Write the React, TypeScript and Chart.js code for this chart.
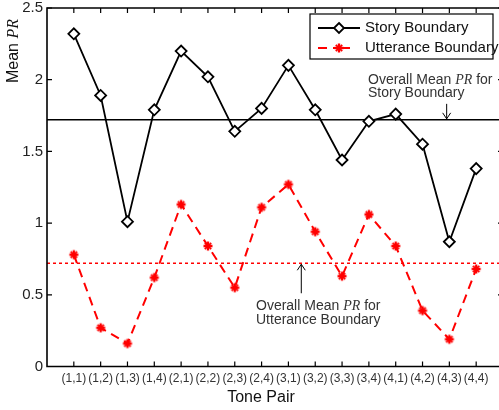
import React, { useEffect, useRef } from "react";
import { Chart, registerables } from "chart.js";

Chart.register(...registerables);

const categories = ["(1,1)", "(1,2)", "(1,3)", "(1,4)", "(2,1)", "(2,2)", "(2,3)", "(2,4)", "(3,1)", "(3,2)", "(3,3)", "(3,4)", "(4,1)", "(4,2)", "(4,3)", "(4,4)"];
const storyValues = [2.32, 1.89, 1.01, 1.79, 2.2, 2.02, 1.64, 1.8, 2.1, 1.79, 1.44, 1.71, 1.76, 1.55, 0.87, 1.38];
const utteranceValues = [0.78, 0.27, 0.16, 0.62, 1.13, 0.84, 0.55, 1.11, 1.27, 0.94, 0.63, 1.06, 0.84, 0.39, 0.19, 0.68];
const storyMean = 1.72;
const utteranceMean = 0.72;
const yTicks = [0, 0.5, 1, 1.5, 2, 2.5];
const yTickLabels = ["0", "0.5", "1", "1.5", "2", "2.5"];
const seriesNames = ["Story Boundary", "Utterance Boundary"];

const SANS = '"Liberation Sans", Arial, sans-serif';
const SERIF = '"Liberation Serif", "Times New Roman", serif';

type Seg = { t: string; f: string };

function drawRich(ctx: CanvasRenderingContext2D, segs: Seg[], x: number, y: number) {
  let cx = x;
  for (const s of segs) {
    ctx.font = s.f;
    ctx.fillText(s.t, cx, y);
    cx += ctx.measureText(s.t).width;
  }
}

function richWidth(ctx: CanvasRenderingContext2D, segs: Seg[]) {
  let w = 0;
  for (const s of segs) {
    ctx.font = s.f;
    w += ctx.measureText(s.t).width;
  }
  return w;
}

function drawStar(ctx: CanvasRenderingContext2D, cx: number, cy: number) {
  ctx.save();
  ctx.strokeStyle = "#ff0000";
  ctx.fillStyle = "#ff0000";
  ctx.lineCap = "butt";
  ctx.lineWidth = 2.4;
  ctx.beginPath();
  ctx.moveTo(cx, cy - 4.5);
  ctx.lineTo(cx, cy + 4.5);
  ctx.moveTo(cx - 4.5, cy);
  ctx.lineTo(cx + 4.5, cy);
  ctx.stroke();
  ctx.lineWidth = 1.8;
  ctx.beginPath();
  ctx.moveTo(cx - 3.2, cy - 3.2);
  ctx.lineTo(cx + 3.2, cy + 3.2);
  ctx.moveTo(cx + 3.2, cy - 3.2);
  ctx.lineTo(cx - 3.2, cy + 3.2);
  ctx.stroke();
  ctx.beginPath();
  ctx.arc(cx, cy, 2.2, 0, Math.PI * 2);
  ctx.fill();
  ctx.restore();
}

function makeStarImage() {
  const c = document.createElement("canvas");
  c.width = 12;
  c.height = 12;
  const g = c.getContext("2d");
  if (g) drawStar(g, 6, 6);
  return c;
}

const overlay = {
  id: "overlay",
  afterDraw(chart: any) {
    const ctx: CanvasRenderingContext2D = chart.ctx;
    const xs = chart.scales.x;
    const ys = chart.scales.y;
    const a = chart.chartArea;
    ctx.save();

    // axes box
    ctx.strokeStyle = "#000";
    ctx.lineWidth = 1.6;
    ctx.beginPath();
    ctx.moveTo(a.left, a.top);
    ctx.lineTo(a.right, a.top);
    ctx.lineTo(a.right, a.bottom);
    ctx.lineTo(a.left, a.bottom);
    ctx.closePath();
    ctx.stroke();

    // ticks inward
    ctx.lineWidth = 1.2;
    ctx.beginPath();
    categories.forEach((_, i) => {
      const px = xs.getPixelForValue(i + 1);
      ctx.moveTo(px, a.bottom);
      ctx.lineTo(px, a.bottom - 5);
      ctx.moveTo(px, a.top);
      ctx.lineTo(px, a.top + 5);
    });
    yTicks.forEach((v) => {
      const py = ys.getPixelForValue(v);
      ctx.moveTo(a.left, py);
      ctx.lineTo(a.left + 5, py);
      ctx.moveTo(a.right, py);
      ctx.lineTo(a.right - 5, py);
    });
    ctx.stroke();

    // y tick labels
    ctx.fillStyle = "#222";
    ctx.font = `15px ${SANS}`;
    ctx.textAlign = "right";
    ctx.textBaseline = "middle";
    yTicks.forEach((v, i) => {
      ctx.fillText(yTickLabels[i], a.left - 4, ys.getPixelForValue(v));
    });

    // x tick labels
    ctx.fillStyle = "#333";
    ctx.font = `12px ${SANS}`;
    ctx.textAlign = "center";
    ctx.textBaseline = "middle";
    categories.forEach((c, i) => {
      ctx.fillText(c, xs.getPixelForValue(i + 1), a.bottom + 12);
    });

    // x title
    ctx.fillStyle = "#111";
    ctx.font = `16px ${SANS}`;
    ctx.fillText("Tone Pair", 261, 398);

    // y title
    const ySegs: Seg[] = [
      { t: "Mean ", f: `16px ${SANS}` },
      { t: "PR", f: `italic 16px ${SERIF}` },
    ];
    ctx.save();
    ctx.translate(14, 51);
    ctx.rotate(-Math.PI / 2);
    ctx.textAlign = "left";
    const yw = richWidth(ctx, ySegs);
    drawRich(ctx, ySegs, -yw / 2, 0);
    ctx.restore();

    // annotations
    ctx.fillStyle = "#333";
    ctx.textAlign = "left";
    ctx.textBaseline = "middle";
    const annFont = `14px ${SANS}`;
    const annIt = `italic 14px ${SERIF}`;
    drawRich(ctx, [{ t: "Overall Mean ", f: annFont }, { t: "PR", f: annIt }, { t: " for", f: annFont }], 368, 80);
    drawRich(ctx, [{ t: "Story Boundary", f: annFont }], 368, 93);
    drawRich(ctx, [{ t: "Overall Mean ", f: annFont }, { t: "PR", f: annIt }, { t: " for", f: annFont }], 256, 306);
    drawRich(ctx, [{ t: "Utterance Boundary", f: annFont }], 256, 320);

    // arrows
    ctx.strokeStyle = "#000";
    ctx.lineWidth = 1;
    const sx = xs.getPixelForValue(14.9);
    const sy = ys.getPixelForValue(storyMean) - 1;
    ctx.beginPath();
    ctx.moveTo(sx, sy - 15);
    ctx.lineTo(sx, sy);
    ctx.moveTo(sx - 4, sy - 6);
    ctx.lineTo(sx, sy);
    ctx.lineTo(sx + 4, sy - 6);
    ctx.stroke();
    const ux = xs.getPixelForValue(9.48);
    const uy = ys.getPixelForValue(utteranceMean) + 1;
    ctx.beginPath();
    ctx.moveTo(ux, uy + 29);
    ctx.lineTo(ux, uy);
    ctx.moveTo(ux - 4, uy + 6);
    ctx.lineTo(ux, uy);
    ctx.lineTo(ux + 4, uy + 6);
    ctx.stroke();

    // legend
    const lx = 310, ly = 14, lw = 183, lh = 45;
    ctx.fillStyle = "#fff";
    ctx.fillRect(lx, ly, lw, lh);
    ctx.strokeStyle = "#000";
    ctx.lineWidth = 1.2;
    ctx.strokeRect(lx, ly, lw, lh);
    // story entry
    ctx.lineWidth = 1.8;
    ctx.beginPath();
    ctx.moveTo(318, 28);
    ctx.lineTo(360, 28);
    ctx.stroke();
    ctx.fillStyle = "#fff";
    ctx.beginPath();
    ctx.moveTo(339, 23);
    ctx.lineTo(344, 28);
    ctx.lineTo(339, 33);
    ctx.lineTo(334, 28);
    ctx.closePath();
    ctx.fill();
    ctx.stroke();
    // utterance entry
    ctx.strokeStyle = "#ff0000";
    ctx.lineWidth = 2;
    ctx.beginPath();
    ctx.moveTo(318, 48);
    ctx.lineTo(327, 48);
    ctx.moveTo(333, 48);
    ctx.lineTo(350, 48);
    ctx.stroke();
    drawStar(ctx, 339, 48);
    ctx.fillStyle = "#111";
    ctx.font = `15px ${SANS}`;
    ctx.textBaseline = "middle";
    ctx.fillText(seriesNames[0], 365, 28);
    ctx.fillText(seriesNames[1], 365, 48);

    ctx.restore();
  },
};

export default function App() {
  const ref = useRef<HTMLCanvasElement | null>(null);
  useEffect(() => {
    if (!ref.current) return;
    const starImg = makeStarImage();
    const chart = new Chart(ref.current, {
      type: "line",
      data: {
        datasets: [
          {
            label: seriesNames[0],
            data: storyValues.map((v, i) => ({ x: i + 1, y: v })),
            borderColor: "#000",
            borderWidth: 1.8,
            pointStyle: "rectRot",
            pointRadius: 5.5,
            pointBorderWidth: 1.8,
            pointBorderColor: "#000",
            pointBackgroundColor: "#fff",
            tension: 0,
          },
          {
            label: seriesNames[1],
            data: utteranceValues.map((v, i) => ({ x: i + 1, y: v })),
            borderColor: "#ff0000",
            borderWidth: 2,
            borderDash: [9, 6],
            pointStyle: starImg as any,
            pointRadius: 5,
            tension: 0,
          },
          {
            label: "story mean",
            data: [{ x: 0, y: storyMean }, { x: 17, y: storyMean }],
            borderColor: "#000",
            borderWidth: 1.5,
            pointRadius: 0,
          },
          {
            label: "utterance mean",
            data: [{ x: 0, y: utteranceMean }, { x: 17, y: utteranceMean }],
            borderColor: "#ff0000",
            borderWidth: 1.5,
            borderDash: [3, 3],
            pointRadius: 0,
          },
        ],
      },
      options: {
        animation: false,
        responsive: false,
        maintainAspectRatio: false,
        layout: { autoPadding: false, padding: { left: 47, top: 8, right: 2, bottom: 43.5 } },
        scales: {
          x: { type: "linear", min: 0, max: 17, display: false },
          y: { type: "linear", min: 0, max: 2.5, display: false },
        },
        plugins: { legend: { display: false }, tooltip: { enabled: false } },
      },
      plugins: [overlay],
    });
    return () => chart.destroy();
  }, []);
  return (
    <div style={{ position: "fixed", left: 0, top: 0, width: 499, height: 410, overflow: "hidden", background: "#fff" }}>
      <canvas ref={ref} width={505} height={410} style={{ display: "block", width: 505, height: 410 }} />
    </div>
  );
}
